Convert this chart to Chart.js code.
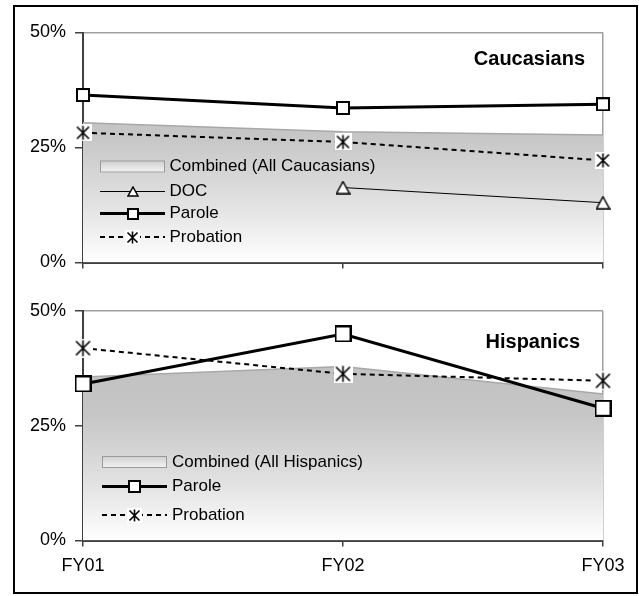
<!DOCTYPE html>
<html>
<head>
<meta charset="utf-8">
<script src="https://cdn.jsdelivr.net/npm/chart.js@4.4.0/dist/chart.umd.min.js"></script>
<style>
  body { margin: 0; background: #fff; }
  #frame { position: absolute; left: 13px; top: 5px; width: 621px; height: 585px; border: 2px solid #000; }
  canvas { position: absolute; left: 0; }
  #cau { top: 0; }
  #his { top: 290px; }
</style>
</head>
<body>
<div id="frame"></div>
<canvas id="cau" width="639" height="290"></canvas>
<canvas id="his" width="639" height="306"></canvas>
<script>
// data
var years = ["FY01", "FY02", "FY03"];
var yTicks = [0, 25, 50];

var cauCombined = [30.4, 28.4, 27.7];
var cauDOC = [null, 16.3, 13.0];
var cauParole = [36.4, 33.6, 34.4];
var cauProbation = [28.2, 26.2, 22.2];

var hisCombined = [35.6, 37.9, 31.9];
var hisParole = [34.1, 45.0, 28.8];
var hisProbation = [41.9, 36.3, 34.8];

var FONT = "'Liberation Sans', Arial, Helvetica, sans-serif";

// marker images (Excel-like markers)
function squareMarker(s) {
  var c = document.createElement("canvas");
  c.width = s; c.height = s;
  var g = c.getContext("2d");
  g.fillStyle = "#fff"; g.fillRect(1, 1, s - 2, s - 2);
  g.strokeStyle = "#000"; g.lineWidth = 2; g.strokeRect(1, 1, s - 2, s - 2);
  return c;
}
function triangleMarker(s) {
  var c = document.createElement("canvas");
  c.width = s; c.height = s - 1;
  var g = c.getContext("2d");
  g.beginPath(); g.moveTo(s / 2, 1); g.lineTo(s - 1, s - 2); g.lineTo(1, s - 2); g.closePath();
  g.fillStyle = "#fff"; g.fill();
  g.strokeStyle = "#000"; g.lineWidth = 1.5; g.stroke();
  return c;
}
function starMarker(s) {
  var c = document.createElement("canvas");
  c.width = s; c.height = s;
  var g = c.getContext("2d");
  var p = 2.5, q = s - 2.5, m = s / 2;
  g.fillStyle = "#fff"; g.fillRect(0, 0, s, s);
  g.strokeStyle = "#000"; g.lineWidth = 1.6;
  g.beginPath();
  g.moveTo(p, p); g.lineTo(q, q);
  g.moveTo(q, p); g.lineTo(p, q);
  g.moveTo(m, p - 1); g.lineTo(m, q + 1);
  g.stroke();
  return c;
}

function areaFill(ctx) {
  var a = ctx.chart.chartArea;
  if (!a) return "#c8c8c8";
  var g = ctx.chart.ctx.createLinearGradient(0, a.top, 0, a.bottom);
  g.addColorStop(0, "#bcbcbc");
  g.addColorStop(0.45, "#c6c6c6");
  g.addColorStop(0.75, "#e2e2e2");
  g.addColorStop(1, "#ffffff");
  return g;
}

function areaDs(label, data) {
  return { label: label, data: data, fill: "origin", backgroundColor: areaFill,
    borderColor: "#a8a8a8", borderWidth: 1.5, pointRadius: 0, order: 10, clip: false };
}
function lineDs(label, data, width, dash, marker, order) {
  return { label: label, data: data, fill: false, borderColor: "#000", borderWidth: width,
    borderDash: dash, pointStyle: marker, pointRadius: 8, order: order, clip: false };
}

// title + legend drawn inside the plot
var panelText = {
  id: "panelText",
  afterDatasetsDraw: function (chart, args, o) {
    var ctx = chart.ctx;
    ctx.save();
    ctx.fillStyle = "#000";
    ctx.font = "bold 20px " + FONT;
    ctx.textAlign = "right"; ctx.textBaseline = "middle";
    ctx.fillText(o.title, o.titleX, o.titleY);
    ctx.font = "17px " + FONT;
    ctx.textAlign = "left";
    chart.data.datasets.forEach(function (ds, i) {
      var y = o.rows[i], x0 = o.x0, w = 65;
      if (ds.fill) {
        var g = ctx.createLinearGradient(0, y - 6, 0, y + 6);
        g.addColorStop(0, "#cfcfcf"); g.addColorStop(1, "#f4f4f4");
        ctx.fillStyle = g; ctx.fillRect(x0, y - 6, w, 12);
        ctx.strokeStyle = "#9a9a9a"; ctx.lineWidth = 1; ctx.strokeRect(x0 + 0.5, y - 5.5, w - 1, 11);
      } else {
        ctx.strokeStyle = ds.borderColor; ctx.lineWidth = ds.borderWidth;
        ctx.setLineDash(ds.borderDash || []);
        ctx.beginPath(); ctx.moveTo(x0, y); ctx.lineTo(x0 + w, y); ctx.stroke();
        ctx.setLineDash([]);
        var m = o.legendMarks[i];
        ctx.drawImage(m, Math.round(x0 + w / 2 - m.width / 2), Math.round(y - m.height / 2));
      }
      ctx.fillStyle = "#000";
      ctx.fillText(ds.label, o.textX, y);
    });
    ctx.restore();
  }
};

function makeChart(id, datasets, showLabels, axisH, padTop, text) {
  return new Chart(id, {
    type: "line",
    data: { labels: years, datasets: datasets },
    plugins: [panelText],
    options: {
      responsive: false,
      devicePixelRatio: 1,
      animation: false,
      events: [],
      layout: { padding: { top: padTop, right: 36, left: 0, bottom: 0 } },
      plugins: { legend: { display: false }, tooltip: { enabled: false }, panelText: text },
      scales: {
        x: {
          ticks: { display: showLabels, color: "#000", font: { size: 18, family: FONT }, padding: 9, maxRotation: 0 },
          grid: { color: function (c) { return c.index === 2 ? "#a0a0a0" : "rgba(0,0,0,0)"; },
            tickColor: "#404040", tickLength: 6, lineWidth: 1.5 },
          border: { color: "#404040", width: 2 },
          afterFit: function (s) { s.height = axisH; }
        },
        y: {
          min: 0, max: 50,
          afterBuildTicks: function (s) { s.ticks = yTicks.map(function (v) { return { value: v }; }); },
          ticks: { color: "#000", font: { size: 18, family: FONT }, padding: 9,
            callback: function (v) { return v + "%"; } },
          grid: { color: function (c) { return c.tick && c.tick.value === 50 ? "#a0a0a0" : "rgba(0,0,0,0)"; },
            tickColor: "#404040", tickLength: 8, lineWidth: 1.5 },
          border: { color: "#404040", width: 2 },
          afterFit: function (s) { s.width = 83; }
        }
      }
    }
  });
}

makeChart("cau", [
  areaDs("Combined (All Caucasians)", cauCombined),
  lineDs("DOC", cauDOC, 1, [], triangleMarker(15), 2),
  lineDs("Parole", cauParole, 3, [], squareMarker(14), 0),
  lineDs("Probation", cauProbation, 2, [5, 4], starMarker(17), 1)
], false, 27.5, 32.5, {
  title: "Caucasians", titleX: 585, titleY: 59,
  x0: 100, textX: 169.5, rows: [166.5, 191.5, 213.5, 237],
  legendMarks: [null, triangleMarker(12), squareMarker(12), starMarker(15)]
});

makeChart("his", [
  areaDs("Combined (All Hispanics)", hisCombined),
  lineDs("Parole", hisParole, 3, [], squareMarker(17), 0),
  lineDs("Probation", hisProbation, 2, [5, 4], starMarker(19), 1)
], true, 55.5, 21, {
  title: "Hispanics", titleX: 580, titleY: 52,
  x0: 102, textX: 172, rows: [172, 196.5, 225],
  legendMarks: [null, squareMarker(13), starMarker(15)]
});
</script>
</body>
</html>
